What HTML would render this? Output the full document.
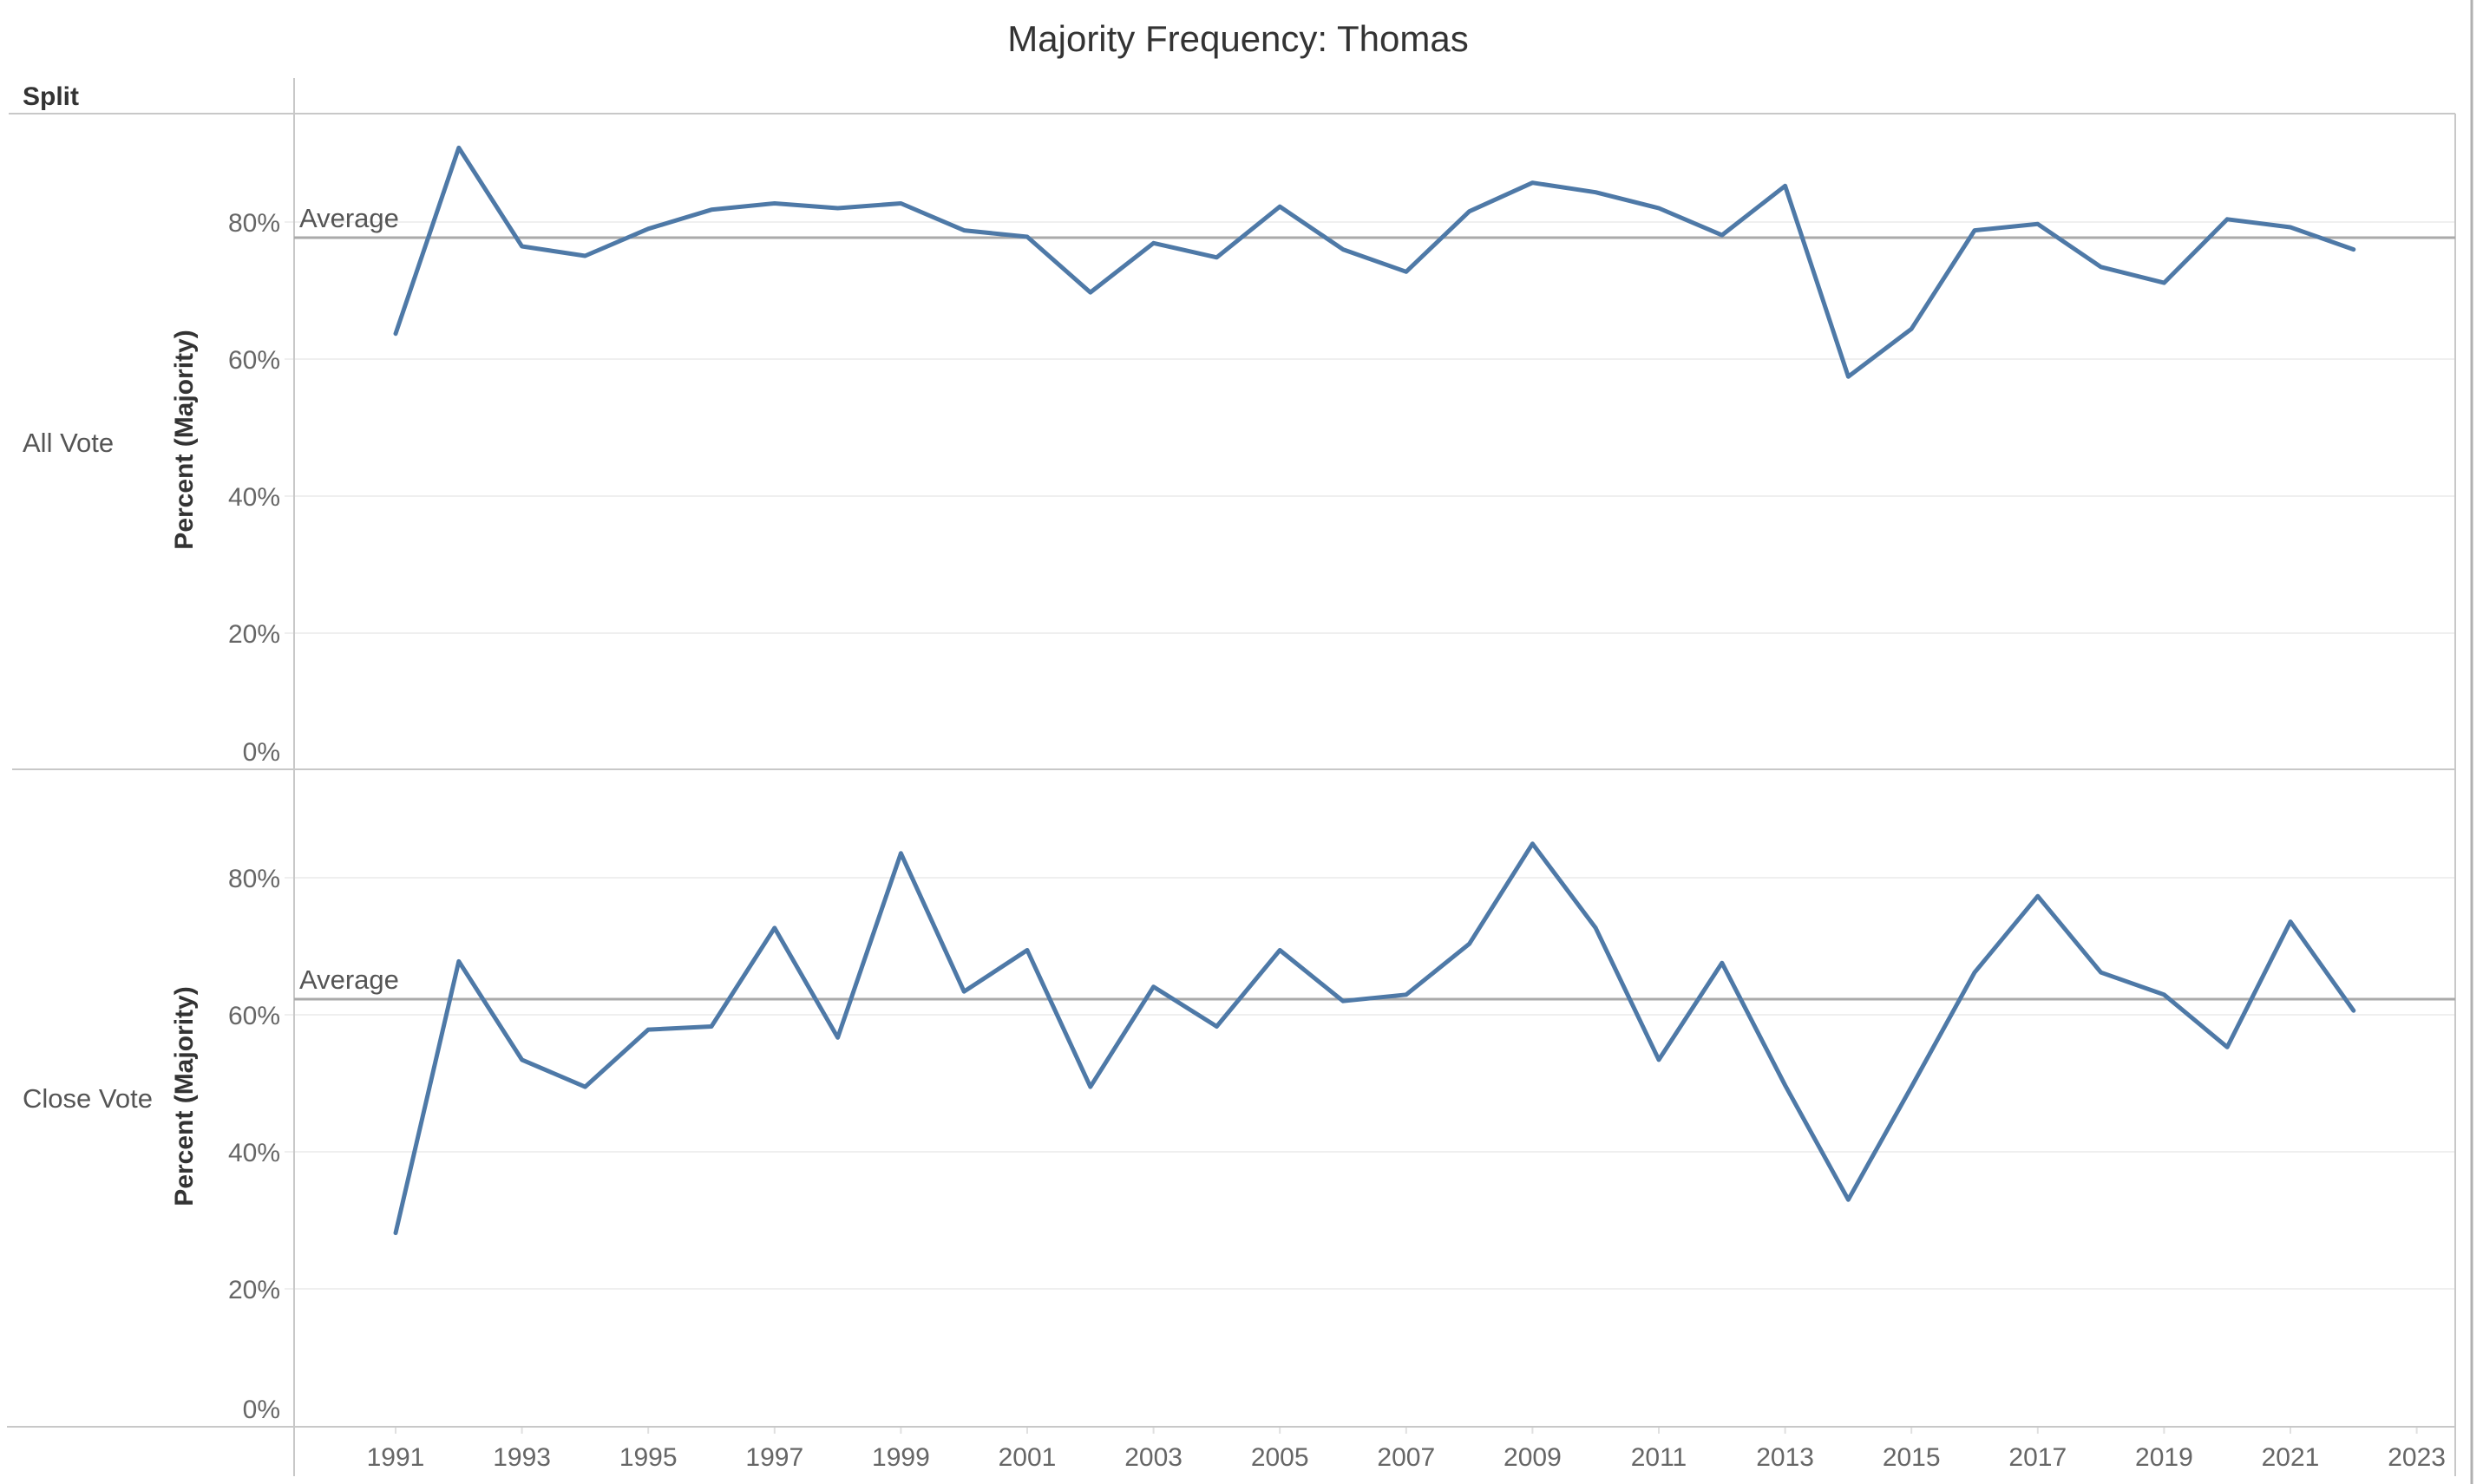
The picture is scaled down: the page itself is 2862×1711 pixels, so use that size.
<!DOCTYPE html>
<html><head><meta charset="utf-8"><style>
html,body{margin:0;padding:0;background:#fff;}
svg{display:block;}
text{font-family:"Liberation Sans","DejaVu Sans",sans-serif;}
</style></head><body>
<svg width="2862" height="1711" viewBox="0 0 2862 1711" xmlns="http://www.w3.org/2000/svg">
<text x="1427" y="59" font-size="42" fill="#333" text-anchor="middle">Majority Frequency: Thomas</text>
<text x="26" y="121" font-size="30" font-weight="bold" fill="#333">Split</text>
<g stroke="#efefef" stroke-width="2">
<line x1="328" y1="256" x2="2830" y2="256"/><line x1="328" y1="414" x2="2830" y2="414"/>
<line x1="328" y1="572" x2="2830" y2="572"/><line x1="328" y1="730" x2="2830" y2="730"/>
<line x1="328" y1="1012" x2="2830" y2="1012"/><line x1="328" y1="1170" x2="2830" y2="1170"/>
<line x1="328" y1="1328" x2="2830" y2="1328"/><line x1="328" y1="1486" x2="2830" y2="1486"/>
</g>
<g stroke="#c8c8c8" stroke-width="2" fill="none">
<line x1="10" y1="131" x2="2830" y2="131"/>
<line x1="14" y1="887" x2="2830" y2="887"/>
<line x1="8" y1="1645" x2="2830" y2="1645"/>
<line x1="339" y1="90" x2="339" y2="1702"/>
<line x1="2830" y1="131" x2="2830" y2="1702"/>
</g>
<line x1="2849" y1="0" x2="2849" y2="1711" stroke="#b0b0b0" stroke-width="3"/>
<g stroke="#e0e0e0" stroke-width="2">
<line x1="456" y1="1646" x2="456" y2="1653"/><line x1="601.6" y1="1646" x2="601.6" y2="1653"/>
<line x1="747.2" y1="1646" x2="747.2" y2="1653"/><line x1="892.8" y1="1646" x2="892.8" y2="1653"/>
<line x1="1038.4" y1="1646" x2="1038.4" y2="1653"/><line x1="1184" y1="1646" x2="1184" y2="1653"/>
<line x1="1329.6" y1="1646" x2="1329.6" y2="1653"/><line x1="1475.2" y1="1646" x2="1475.2" y2="1653"/>
<line x1="1620.8" y1="1646" x2="1620.8" y2="1653"/><line x1="1766.4" y1="1646" x2="1766.4" y2="1653"/>
<line x1="1912" y1="1646" x2="1912" y2="1653"/><line x1="2057.6" y1="1646" x2="2057.6" y2="1653"/>
<line x1="2203.2" y1="1646" x2="2203.2" y2="1653"/><line x1="2348.8" y1="1646" x2="2348.8" y2="1653"/>
<line x1="2494.4" y1="1646" x2="2494.4" y2="1653"/><line x1="2640" y1="1646" x2="2640" y2="1653"/>
<line x1="2785.6" y1="1646" x2="2785.6" y2="1653"/>
</g>
<g font-size="30" fill="#666" text-anchor="middle">
<text x="456" y="1690">1991</text><text x="601.6" y="1690">1993</text><text x="747.2" y="1690">1995</text>
<text x="892.8" y="1690">1997</text><text x="1038.4" y="1690">1999</text><text x="1184" y="1690">2001</text>
<text x="1329.6" y="1690">2003</text><text x="1475.2" y="1690">2005</text><text x="1620.8" y="1690">2007</text>
<text x="1766.4" y="1690">2009</text><text x="1912" y="1690">2011</text><text x="2057.6" y="1690">2013</text>
<text x="2203.2" y="1690">2015</text><text x="2348.8" y="1690">2017</text><text x="2494.4" y="1690">2019</text>
<text x="2640" y="1690">2021</text><text x="2785.6" y="1690">2023</text>
</g>
<g font-size="30" fill="#666" text-anchor="end">
<text x="323" y="267">80%</text><text x="323" y="425">60%</text><text x="323" y="583">40%</text>
<text x="323" y="741">20%</text><text x="323" y="877">0%</text>
<text x="323" y="1023">80%</text><text x="323" y="1181">60%</text><text x="323" y="1339">40%</text>
<text x="323" y="1497">20%</text><text x="323" y="1635">0%</text>
</g>
<g font-size="31" fill="#555">
<text x="26" y="521">All Vote</text>
<text x="26" y="1277">Close Vote</text>
</g>
<g font-size="30" font-weight="bold" fill="#333" text-anchor="middle">
<text transform="translate(222,507) rotate(-90)">Percent (Majority)</text>
<text transform="translate(222,1264) rotate(-90)">Percent (Majority)</text>
</g>
<line x1="339" y1="274" x2="2830" y2="274" stroke="#aaa" stroke-width="3"/>
<line x1="339" y1="1152" x2="2830" y2="1152" stroke="#aaa" stroke-width="3"/>
<g font-size="31" fill="#555">
<text x="345" y="262">Average</text>
<text x="345" y="1140">Average</text>
</g>
<g fill="none" stroke="#4e79a7" stroke-width="5" stroke-linejoin="round" stroke-linecap="round">
<polyline points="456,384.7 528.8,170.4 601.6,284 674.4,295 747.2,263.8 820,241.8 892.8,234.5 965.6,240 1038.4,234.5 1111.2,265.6 1184,273 1256.8,337.1 1329.6,280.3 1402.4,296.8 1475.2,238.2 1548,287.6 1620.8,313.3 1693.6,243.7 1766.4,210.7 1839.2,221.7 1912,240 1984.8,271.1 2057.6,214.3 2130.4,434.2 2203.2,379.2 2276,265.6 2348.8,258.3 2421.6,307.8 2494.4,326.1 2567.2,252.8 2640,262 2712.8,287.6"/>
<polyline points="456,1421.6 528.8,1108.4 601.6,1221.9 674.4,1253.1 747.2,1187.1 820,1183.5 892.8,1069.9 965.6,1196.3 1038.4,983.8 1111.2,1143.2 1184,1095.5 1256.8,1253.1 1329.6,1137.7 1402.4,1183.5 1475.2,1095.5 1548,1154.2 1620.8,1146.8 1693.6,1088.2 1766.4,972.8 1839.2,1069.9 1912,1221.9 1984.8,1110.2 2057.6,1251.3 2130.4,1383.2 2203.2,1253.1 2276,1121.2 2348.8,1033.2 2421.6,1121.2 2494.4,1146.8 2567.2,1207.3 2640,1062.6 2712.8,1165.2"/>
</g>
</svg>
</body></html>
